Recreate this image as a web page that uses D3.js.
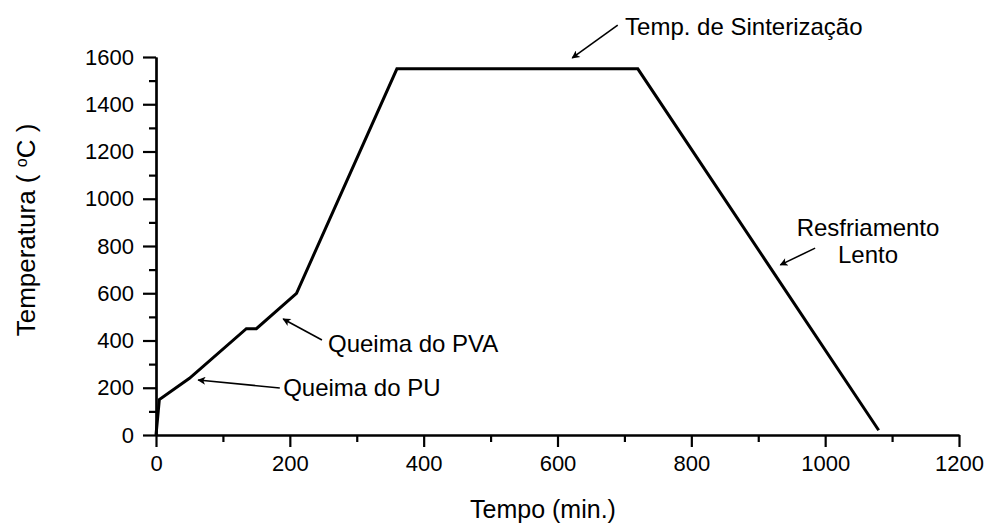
<!DOCTYPE html>
<html>
<head>
<meta charset="utf-8">
<script src="https://cdn.jsdelivr.net/npm/d3@7/dist/d3.min.js"></script>
<style>
  body { margin: 0; background: #fff; }
  svg text { font-family: "Liberation Sans", Arial, Helvetica, sans-serif; fill: #000; }
</style>
</head>
<body>
<svg id="chart" width="989" height="527"></svg>
<script>
// ---- data ----
const timeMin = [0, 5, 50, 135, 150, 210, 360, 720, 1080];
const tempC   = [0, 150, 240, 450, 450, 600, 1550, 1550, 20];
const xTicks = [0, 200, 400, 600, 800, 1000, 1200];
const yTicks = [0, 200, 400, 600, 800, 1000, 1200, 1400, 1600];
const xMinorTicks = [100, 300, 500, 700, 900, 1100];
const yMinorTicks = [100, 300, 500, 700, 900, 1100, 1300, 1500];
const annLabels = [["Temp. de Sinterização"], ["Resfriamento", "Lento"], ["Queima do PVA"], ["Queima do PU"]];
const annTextX = [701, 1064, 257, 190];
const annTextY = [1693, 842, 351, 165];
const annAnchor = ["start", "middle", "start", "start"];
const arrowFromX = [690, 985, 248, 185];
const arrowFromY = [1735, 791, 402, 199];
const arrowToX = [622, 933, 190, 63];
const arrowToY = [1596, 720, 491, 233];

// ---- layout ----
const svg = d3.select("#chart");
const x = d3.scaleLinear().domain([0, 1200]).range([156, 959]);
const y = d3.scaleLinear().domain([0, 1600]).range([435, 57]);

svg.append("defs").append("marker")
  .attr("id", "ah").attr("viewBox", "0 0 10 10").attr("refX", 9).attr("refY", 5)
  .attr("markerWidth", 15).attr("markerHeight", 8).attr("markerUnits", "userSpaceOnUse")
  .attr("orient", "auto")
  .append("path").attr("d", "M0,0 L10,5 L0,10 L2.5,5 Z").attr("fill", "#000");

const fmt = d3.format("d");
// axes
const xAxis = svg.append("g").attr("transform", `translate(0,${y(0)})`)
  .call(d3.axisBottom(x).tickValues(xTicks).tickFormat(fmt).tickSize(12).tickPadding(8).tickSizeOuter(0));
const xMinor = svg.append("g").attr("transform", `translate(0,${y(0)})`)
  .call(d3.axisBottom(x).tickValues(xMinorTicks).tickSize(7).tickFormat("").tickSizeOuter(0));
const yAxis = svg.append("g").attr("transform", `translate(${x(0)},0)`)
  .call(d3.axisLeft(y).tickValues(yTicks).tickFormat(fmt).tickSize(13).tickPadding(9).tickSizeOuter(0));
const yMinor = svg.append("g").attr("transform", `translate(${x(0)},0)`)
  .call(d3.axisLeft(y).tickValues(yMinorTicks).tickSize(7).tickFormat("").tickSizeOuter(0));

[xAxis, xMinor, yAxis, yMinor].forEach(g => {
  g.selectAll("path.domain").attr("stroke", "#000").attr("stroke-width", 2.2);
  g.selectAll(".tick line").attr("stroke", "#000").attr("stroke-width", 2.2);
  g.selectAll(".tick text").attr("font-size", 22).attr("font-family", "Liberation Sans, Arial, sans-serif").attr("fill", "#000");
});

// axis titles
svg.append("text").attr("x", 543).attr("y", 518).attr("text-anchor", "middle")
  .attr("font-size", 25).text("Tempo (min.)");
const yt = svg.append("text").attr("transform", "translate(35,230) rotate(-90)")
  .attr("text-anchor", "middle").attr("font-size", 26);
yt.append("tspan").text("Temperatura ( ");
yt.append("tspan").attr("baseline-shift", "super").attr("font-size", 16).text("o");
yt.append("tspan").text("C )");

// data line
const line = d3.line().x((d, i) => x(timeMin[i])).y((d, i) => y(tempC[i]));
svg.append("path").datum(timeMin).attr("d", line)
  .attr("fill", "none").attr("stroke", "#000").attr("stroke-width", 3).attr("stroke-linejoin", "miter");

// annotations
annLabels.forEach((lines, i) => {
  const t = svg.append("text").attr("x", x(annTextX[i])).attr("y", y(annTextY[i]))
    .attr("text-anchor", annAnchor[i]).attr("font-size", 24);
  lines.forEach((l, j) => {
    t.append("tspan").attr("x", x(annTextX[i])).attr("dy", j === 0 ? 0 : 27).text(l);
  });
  svg.append("line")
    .attr("x1", x(arrowFromX[i])).attr("y1", y(arrowFromY[i]))
    .attr("x2", x(arrowToX[i])).attr("y2", y(arrowToY[i]))
    .attr("stroke", "#000").attr("stroke-width", 1.6).attr("marker-end", "url(#ah)");
});
</script>
</body>
</html>
